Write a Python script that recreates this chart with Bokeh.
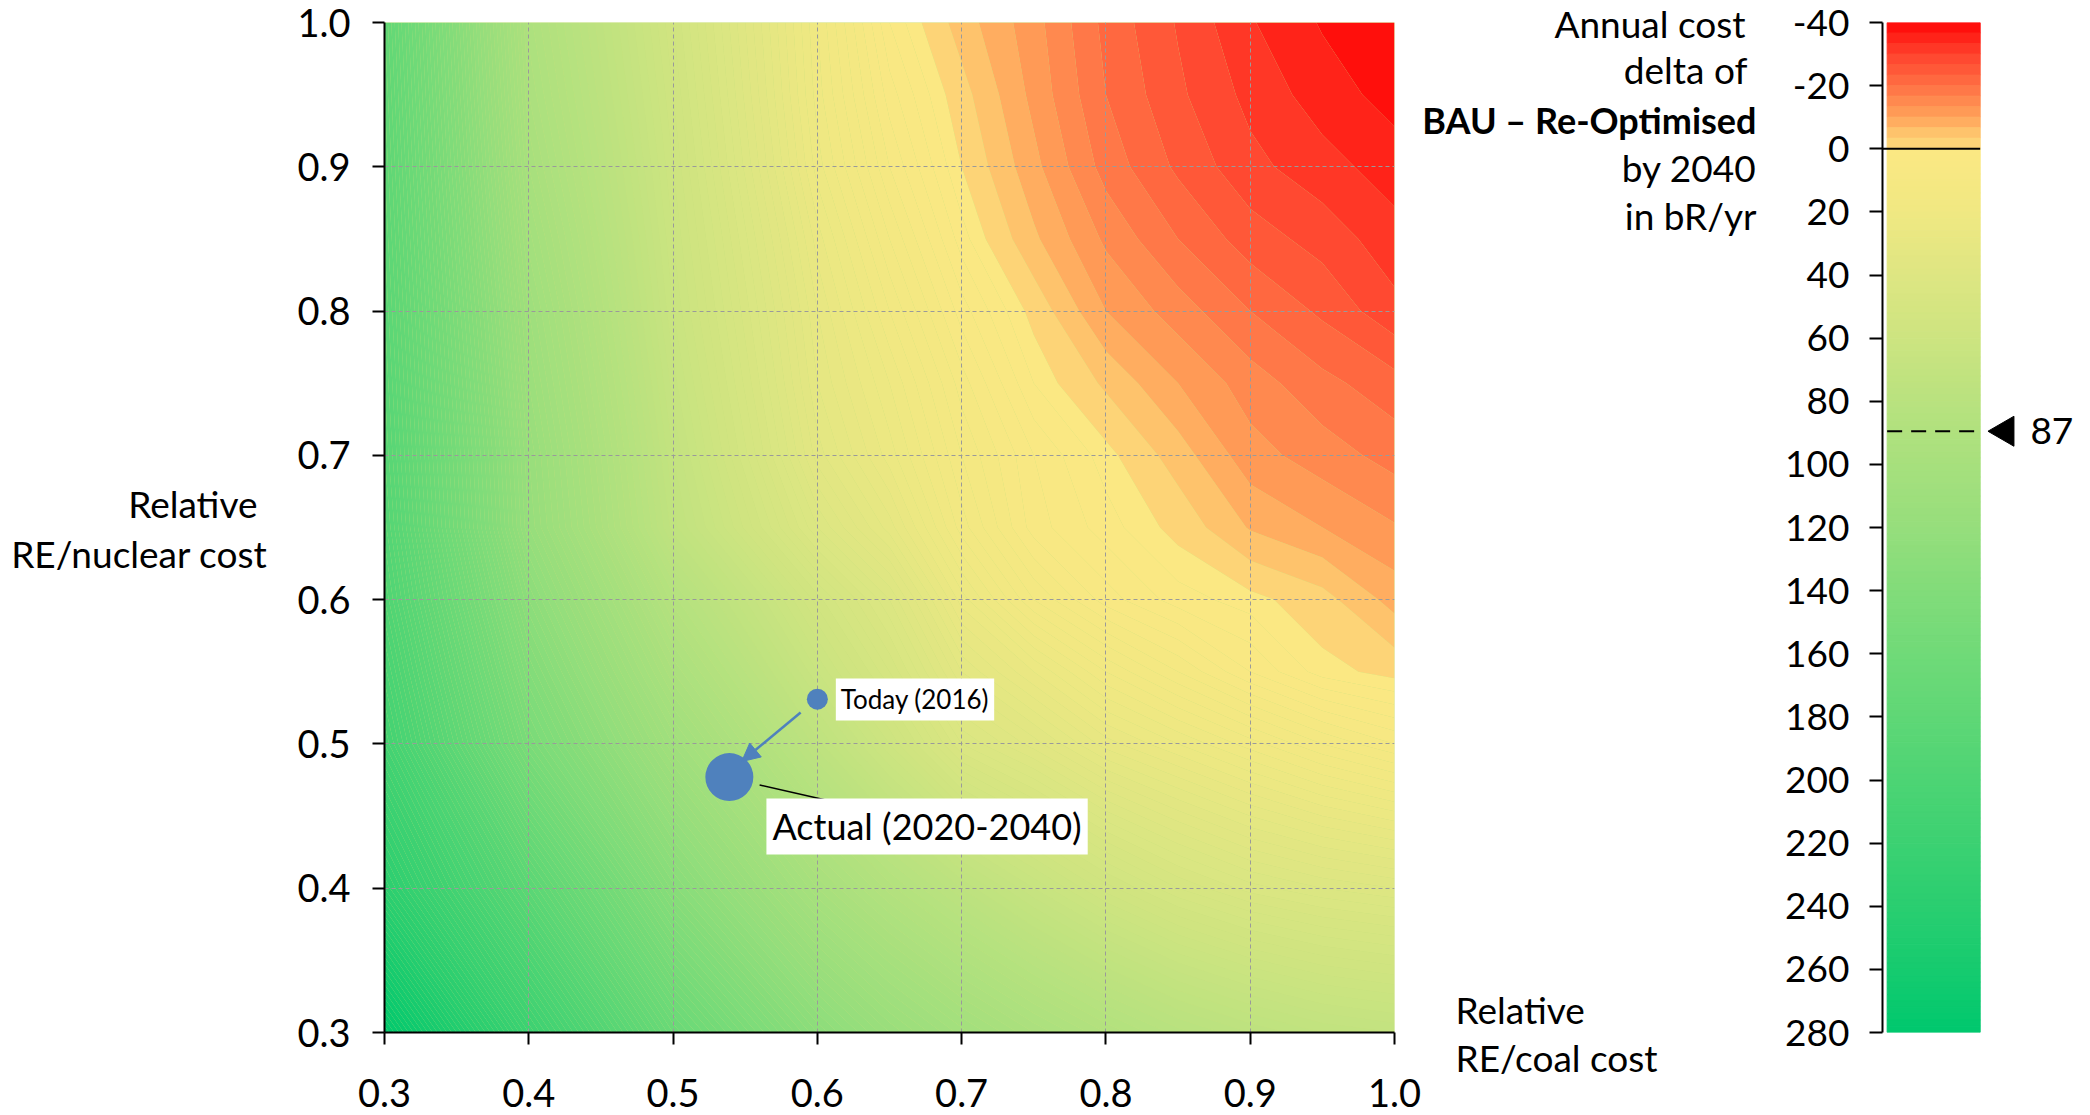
import numpy as np
from bokeh.plotting import figure
from bokeh.layouts import row
from bokeh.models import (Range1d, FixedTicker, PrintfTickFormatter, Label,
                          Arrow, NormalHead)
from bokeh.embed import file_html
from bokeh.resources import INLINE
from bokeh.core.properties import value

# ---------------- data ----------------
re_coal = [0.3, 0.4, 0.5, 0.6, 0.65, 0.7, 0.75, 0.8, 0.85, 0.9, 0.95, 1.0]
re_nuclear = [0.3, 0.4, 0.5, 0.55, 0.6, 0.65, 0.7, 0.75, 0.8, 0.85, 0.9, 0.95, 1.0]
# annual cost delta (bR/yr), one row per RE/nuclear value
delta_n030 = [280, 220, 168, 130, 116, 105, 96, 88, 81, 76, 72, 70]
delta_n040 = [238, 185, 135, 100, 87, 76, 66, 57, 50, 45, 42, 40]
delta_n050 = [212, 150, 108, 75, 60, 44, 37, 29, 24, 19, 14, 10]
delta_n055 = [205, 140, 96, 64, 50, 34, 26, 18, 12, 6, 1, -1]
delta_n060 = [198, 130, 85, 55, 42, 25, 14, 7, 3, 1, -2, -8]
delta_n065 = [193, 120, 73, 42, 31, 17, 7, 3, -1, -7, -10, -13]
delta_n070 = [190, 118, 70, 35, 25, 14, 6, 1, -5, -12, -15, -18]
delta_n075 = [188, 114, 67, 32, 22, 11, 2, -4, -10, -15, -19, -22]
delta_n080 = [186, 110, 64, 30, 18, 7, -1, -10, -15, -20, -24, -29]
delta_n085 = [184, 105, 62, 27, 14, 3, -6, -14, -20, -25, -28, -32]
delta_n090 = [182, 100, 60, 23, 10, 0, -9, -18, -24, -29, -32, -35]
delta_n095 = [180, 96, 58, 21, 7, -2, -11, -20, -26, -31, -35, -38]
delta_n100 = [178, 93, 56, 20, 4, -5, -12, -21, -27, -33, -37, -40]
cost_delta = [delta_n030, delta_n040, delta_n050, delta_n055, delta_n060,
              delta_n065, delta_n070, delta_n075, delta_n080, delta_n085,
              delta_n090, delta_n095, delta_n100]

axis_ticks = [0.3, 0.4, 0.5, 0.6, 0.7, 0.8, 0.9, 1.0]
cbar_ticks = [-40, -20, 0, 20, 40, 60, 80, 100, 120, 140, 160, 180, 200, 220, 240, 260, 280]
cbar_min, cbar_max = -40, 280

today_x, today_y = [0.600], [0.531]
actual_x, actual_y = [0.539], [0.477]
today_text = "Today (2016)"
actual_text = "Actual (2020-2040)"
marker_text = "87"
marker_level = 89.5

y_title = ["Relative", "RE/nuclear cost"]
x_title = ["Relative", "RE/coal cost"]
cbar_title = ["Annual cost", "delta of", "BAU \u2013 Re-Optimised", "by 2040", "in bR/yr"]
cbar_title_bold = [False, False, True, False, False]

FONT = "Lato"
BLUE = "#4F81BD"
H = 1115
TOP, BOTTOM = 22, 83          # frame borders shared by every panel of the row
FRAME_TOP, FRAME_BOTTOM = TOP, H - BOTTOM

# ---------------- colour scale ----------------
neg_stops = [(-40, (255, 5, 5)), (-30, (255, 65, 45)), (-20, (255, 112, 68)),
             (-10, (255, 162, 90)), (-5, (254, 195, 108)), (0, (253, 220, 125))]
pos_stops = [(0, (252, 232, 131)), (20, (240, 232, 130)), (40, (222, 230, 130)),
             (60, (205, 228, 128)), (80, (185, 226, 127)), (100, (167, 224, 125)),
             (120, (150, 222, 124)), (140, (130, 220, 122)), (160, (112, 218, 120)),
             (180, (95, 215, 118)), (200, (77, 212, 116)), (220, (60, 209, 114)),
             (240, (42, 206, 112)), (260, (22, 203, 111)), (280, (0, 200, 110))]


def colour_at(v, stops):
    vs = [s[0] for s in stops]
    rgb = [np.interp(v, vs, [s[1][k] for s in stops]) for k in range(3)]
    return "#%02x%02x%02x" % tuple(int(round(c)) for c in rgb)


neg_levels = list(np.linspace(cbar_min, 0, 13))
pos_levels = list(np.arange(2, cbar_max, 2)) + [cbar_max]
levels = neg_levels + pos_levels
band_lo = levels[:-1]
band_hi = levels[1:]
band_colors = []
for lo, hi in zip(band_lo, band_hi):
    mid = 0.5 * (lo + hi)
    band_colors.append(colour_at(mid, neg_stops if hi <= 0 else pos_stops))
contour_levels = [levels[0] - 1] + levels[1:-1] + [levels[-1] + 1]


# ---------------- text panels (page pixel units) ----------------
def text_panel(x0, x1):
    f = figure(width=x1 - x0, height=H, x_range=Range1d(x0, x1),
               y_range=Range1d(FRAME_BOTTOM, FRAME_TOP),
               x_axis_location=None, y_axis_location=None, output_backend="svg",
               toolbar_location=None, min_border_left=0, min_border_right=0,
               min_border_top=TOP, min_border_bottom=BOTTOM)
    f.outline_line_color = None
    f.grid.visible = False
    return f


def put_text(f, px, py, text, align, bold=False, size="37px"):
    r = f.text(x=[px], y=[py], text=[text], text_align=align, text_baseline="middle",
               text_font=value(FONT), text_font_size=size,
               text_font_style="bold" if bold else "normal", text_color="black")
    r.level = "overlay"   # drawn without the frame clip
    return r


left = text_panel(0, 290)
put_text(left, 257, 503, y_title[0], "right")
put_text(left, 267, 553, y_title[1], "right")

# ---------------- main heat map ----------------
p = figure(width=1421 - 290, height=H, x_range=Range1d(0.3, 1.0), y_range=Range1d(0.3, 1.0),
           output_backend="svg", toolbar_location=None,
           min_border_left=94, min_border_right=27, min_border_top=TOP, min_border_bottom=BOTTOM)
p.outline_line_color = None
p.background_fill_color = "#c8e07e"

cr = p.contour(x=re_coal, y=re_nuclear, z=np.array(cost_delta, dtype=float),
               levels=contour_levels, fill_color=band_colors)
cr.level = "image"
try:
    cr.fill_renderer.glyph.line_color = cr.fill_renderer.glyph.fill_color
    cr.fill_renderer.glyph.line_width = 1
except Exception:
    pass

for ax in (p.xaxis[0], p.yaxis[0]):
    ax.ticker = FixedTicker(ticks=axis_ticks)
    ax.formatter = PrintfTickFormatter(format="%.1f")
    ax.axis_line_width = 2
    ax.axis_line_color = "black"
    ax.major_tick_line_width = 2
    ax.major_tick_out = 12
    ax.major_tick_in = 0
    ax.minor_tick_out = 0
    ax.minor_tick_in = 0
    ax.major_label_text_font = FONT
    ax.major_label_text_font_size = "38px"
    ax.major_label_text_color = "black"
p.xaxis[0].major_label_standoff = 34
p.yaxis[0].major_label_standoff = 22

p.grid.grid_line_color = "#9a9a9a"
p.grid.grid_line_dash = "4 3"
p.grid.grid_line_width = 1

# points and annotation
p.scatter(today_x, today_y, size=21, fill_color=BLUE, line_color=None)
p.scatter(actual_x, actual_y, size=48, fill_color=BLUE, line_color=None)

ddx = actual_x[0] - today_x[0]
ddy = actual_y[0] - today_y[0]
p.add_layout(Arrow(end=NormalHead(size=18, fill_color=BLUE, line_color=BLUE),
                   x_start=today_x[0] + 0.19 * ddx, y_start=today_y[0] + 0.17 * ddy,
                   x_end=today_x[0] + 0.86 * ddx, y_end=today_y[0] + 0.80 * ddy,
                   line_color=BLUE, line_width=2.5))

p.segment(x0=[actual_x[0] + 0.021], y0=[actual_y[0] - 0.0055],
          x1=[actual_x[0] + 0.0706], y1=[actual_y[0] - 0.0167],
          line_color="black", line_width=1.5)

p.add_layout(Label(x=0.5647, y=0.4428, text=actual_text, text_align="left",
                   text_baseline="middle", text_font=FONT, text_font_size="36px",
                   text_color="black", background_fill_color="white", padding=6))
p.add_layout(Label(x=0.6128, y=0.5308, text=today_text, text_align="left",
                   text_baseline="middle", text_font=FONT, text_font_size="26px",
                   text_color="black", background_fill_color="white", padding=5))

# ---------------- middle text panel ----------------
mid = text_panel(1421, 1765)
put_text(mid, 1455, 1009, x_title[0], "left")
put_text(mid, 1455, 1057, x_title[1], "left")
title_right = [1745, 1747, 1756, 1756, 1756]
title_y = [23, 69, 119, 167, 215]
for t, b, xr, yy in zip(cbar_title, cbar_title_bold, title_right, title_y):
    put_text(mid, xr, yy, t, "right", bold=b, size="36px" if b else "37px")

# ---------------- colour bar ----------------
c = figure(width=317, height=H, x_range=Range1d(-0.05, 2.1),
           y_range=Range1d(cbar_max, cbar_min), x_axis_location=None,
           output_backend="svg", toolbar_location=None,
           min_border_left=117, min_border_right=0, min_border_top=TOP, min_border_bottom=BOTTOM)
c.outline_line_color = None
c.grid.visible = False
c.quad(left=0, right=1, bottom=band_lo, top=band_hi,
       fill_color=band_colors, line_color=band_colors, line_width=1)
c.segment(x0=[-0.05], x1=[1], y0=[0], y1=[0], line_color="black", line_width=2)
c.segment(x0=[0], x1=[1], y0=[marker_level], y1=[marker_level],
          line_color="black", line_width=2, line_dash="15 9")
c.scatter(x=[1.27], y=[marker_level], marker="triangle", size=30, angle=np.pi / 2,
          fill_color="black", line_color="black")
c.text(x=[1.54], y=[marker_level], text=[marker_text], text_align="left",
       text_baseline="middle", text_font=value(FONT), text_font_size="37px")

ya = c.yaxis[0]
ya.ticker = FixedTicker(ticks=cbar_ticks)
ya.formatter = PrintfTickFormatter(format="%d")
ya.axis_line_width = 2
ya.major_tick_line_width = 2
ya.major_tick_out = 13
ya.major_tick_in = 0
ya.minor_tick_out = 0
ya.minor_tick_in = 0
ya.major_label_standoff = 20
ya.major_label_text_font = FONT
ya.major_label_text_font_size = "37px"
ya.major_label_text_color = "black"

layout = row(left, p, mid, c)
open("out.html", "w").write(file_html(layout, INLINE))
